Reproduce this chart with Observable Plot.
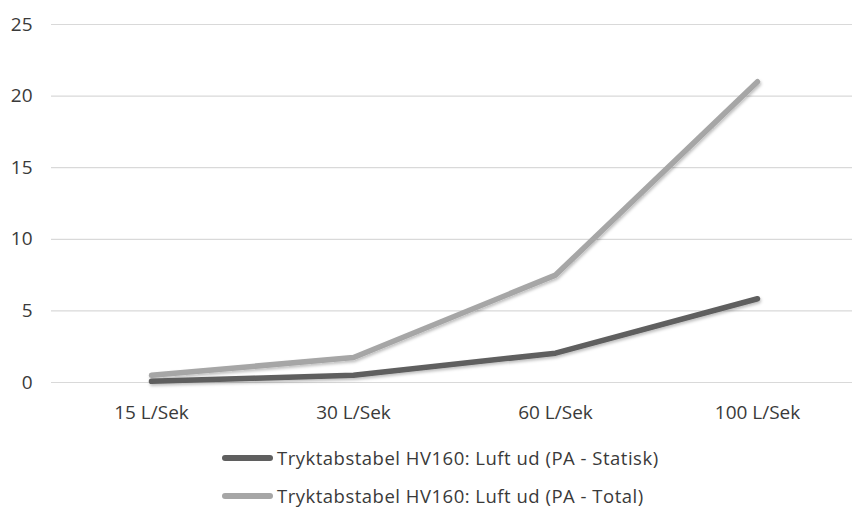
<!DOCTYPE html>
<html>
<head>
<meta charset="utf-8">
<script src="https://cdn.jsdelivr.net/npm/d3@7"></script>
<script src="https://cdn.jsdelivr.net/npm/@observablehq/plot@0.6"></script>
<style>
  html, body { margin: 0; padding: 0; background: #fff; }
  body { width: 852px; height: 512px; overflow: hidden; font-family: "Open Sans", sans-serif; position: relative; }
  #legend { position: absolute; left: 222px; top: 439px; }
  #legend .item { display: flex; align-items: center; height: 38px; font-size: 18.5px; line-height: 22px; letter-spacing: 0.5px; color: #3a3a3a; white-space: nowrap; }
  #legend .sw { width: 51px; height: 6px; border-radius: 3px; margin-right: 4px; }
</style>
</head>
<body>
<div id="chart"></div>
<div id="legend"></div>
<script>
const categories = ["15 L/Sek", "30 L/Sek", "60 L/Sek", "100 L/Sek"];
const statisk = [0.08, 0.5, 2.05, 5.85];
const total = [0.5, 1.75, 7.5, 21.0];
const seriesNames = ["Tryktabstabel HV160: Luft ud (PA - Statisk)", "Tryktabstabel HV160: Luft ud (PA - Total)"];
const seriesColors = ["#5f5f5f", "#a6a6a6"];
const yTicks = [0, 5, 10, 15, 20, 25];

const rows = [];
categories.forEach((c, i) => {
  rows.push({cat: c, value: statisk[i], series: seriesNames[0]});
  rows.push({cat: c, value: total[i], series: seriesNames[1]});
});

const plot = Plot.plot({
  width: 852,
  height: 430,
  marginLeft: 51,
  marginRight: 0,
  marginTop: 24,
  marginBottom: 48,
  style: {fontFamily: "'Open Sans', sans-serif", fontSize: "19px", color: "#3a3a3a", background: "#fff"},
  x: {type: "point", domain: categories, range: [150, 758], padding: 0, label: null},
  y: {domain: [0, 25], ticks: yTicks, label: null},
  color: {domain: seriesNames, range: seriesColors},
  marks: [
    Plot.ruleY(yTicks, {stroke: "#d9d9d9", strokeWidth: 1.2}),
    Plot.axisX({tickSize: 0, tickPadding: 23, fontSize: 19, label: null}),
    Plot.axisY({ticks: yTicks, tickSize: 0, tickPadding: 19, fontSize: 19, label: null}),
    Plot.lineY(rows.filter(d => d.series === seriesNames[1]), {x: "cat", y: "value", stroke: "series", strokeWidth: 5.5, strokeLinecap: "round", strokeLinejoin: "round"}),
    Plot.lineY(rows.filter(d => d.series === seriesNames[0]), {x: "cat", y: "value", stroke: "series", strokeWidth: 5.5, strokeLinecap: "round", strokeLinejoin: "round"})
  ]
});
document.getElementById("chart").appendChild(plot);

// subtle shadow on lines, like the original
const ns = "http://www.w3.org/2000/svg";
const defs = document.createElementNS(ns, "defs");
defs.innerHTML = '<filter id="sh" x="-10%" y="-10%" width="120%" height="130%"><feDropShadow dx="1" dy="2" stdDeviation="1.5" flood-color="#000" flood-opacity="0.25"/></filter>';
plot.insertBefore(defs, plot.firstChild);
plot.querySelectorAll('g[aria-label="line"]').forEach(g => g.setAttribute("filter", "url(#sh)"));

const box = document.getElementById("legend");
seriesNames.forEach((n, i) => {
  const it = document.createElement("div");
  it.className = "item";
  it.innerHTML = `<span class="sw" style="background:${seriesColors[i]}"></span><span>${n}</span>`;
  box.appendChild(it);
});
</script>
</body>
</html>
